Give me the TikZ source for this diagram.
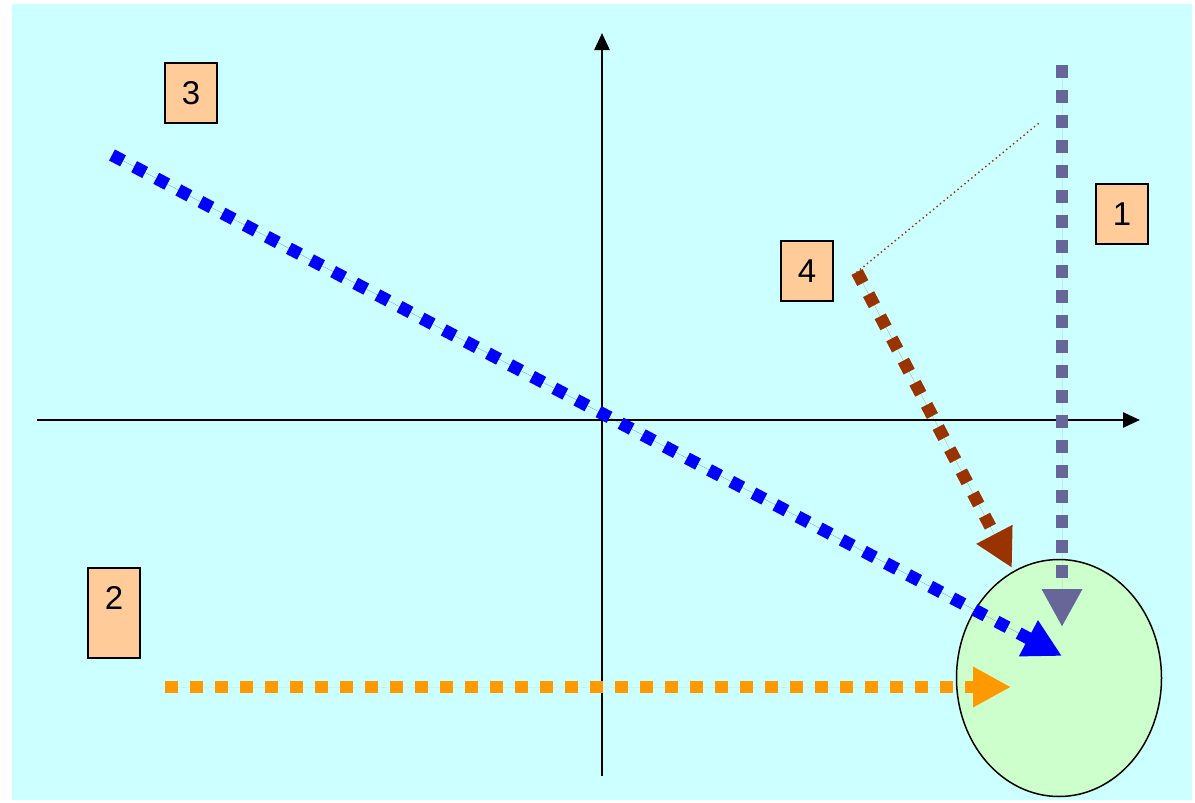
\documentclass[tikz,border=0pt]{standalone}
\usepackage{fontspec}
\setmainfont{Liberation Sans}
\usetikzlibrary{arrows.meta, shapes.geometric, positioning}

\definecolor{bgcyan}{HTML}{CCFFFF}
\definecolor{boxpeach}{HTML}{FFCC99}
\definecolor{targetgreen}{HTML}{CCFFCC}
\definecolor{slate}{HTML}{666699}
\definecolor{flowblue}{HTML}{0000FF}
\definecolor{floworange}{HTML}{FF9900}
\definecolor{flowbrown}{HTML}{993300}

\begin{document}
\begin{tikzpicture}[
    x=1pt, y=-1pt,
    numbox/.style = {rectangle, draw=black, line width=1.5pt, fill=boxpeach, minimum width=52pt, minimum height=60pt, inner sep=0pt, text height=23pt, text depth=0pt, font=\fontsize{33}{36}\selectfont},
    target/.style = {ellipse, draw=black, line width=1.5pt, fill=targetgreen, minimum width=205pt, minimum height=237pt, inner sep=0pt},
    axis/.style   = {line width=2.5pt, -{Triangle[length=17pt, width=15pt]}},
    flow/.style   = {line width=12.5pt, dash pattern=on 12.5pt off 12.5pt},
    tip/.style    = {-{Triangle[length=38pt, width=38pt]}}
]

    % --- Latar ---
    \useasboundingbox (0,0) rectangle (1195,803);
    \fill[bgcyan] (12,4) rectangle (1192,800);

    % --- Sumbu ---
    \coordinate (origin) at (602,420);
    \coordinate (xleft)  at (37,420);
    \coordinate (xright) at (1140,420);
    \coordinate (ybot)   at (602,776);
    \coordinate (ytop)   at (602,33);
    \draw[axis] (xleft) -- (xright);
    \draw[axis] (ybot) -- (ytop);

    % --- Sasaran ---
    \node (goal) [target] at (1059,678) {};

    % --- Kotak Nomor ---
    \node (box1) [numbox] at (1122,214) {1};
    \node (box2) [numbox, minimum height=90pt, text depth=30pt] at (114,613) {2};
    \node (box3) [numbox] at (191,93) {3};
    \node (box4) [numbox] at (807,271) {4};

    % --- Titik Ujung ---
    \coordinate (s1) at (1062,65);
    \coordinate (e1) at (1062,627);
    \coordinate (s2) at (165,687);
    \coordinate (e2) at (1011,687);
    \coordinate (s3) at (112,155);
    \coordinate (e3) at (1062,656);
    \coordinate (s4) at (857,272);
    \coordinate (e4) at (1012,568);
    \coordinate (aim) at (1039,123);

    % --- Garis Arah ---
    \draw[flow, tip, draw=slate, fill=slate] (s1) -- (e1);
    \draw[flow, tip, draw=floworange, fill=floworange] (s2) -- (e2);
    \draw[flow, tip, draw=flowblue, fill=flowblue] (s3) -- (e3);
    \draw[flow, tip, draw=flowbrown, fill=flowbrown] (s4) -- (e4);
    \draw[flowbrown, line width=2pt, line cap=round, dash pattern=on 0pt off 4.5pt] (s4) -- (aim);

\end{tikzpicture}
\end{document}
